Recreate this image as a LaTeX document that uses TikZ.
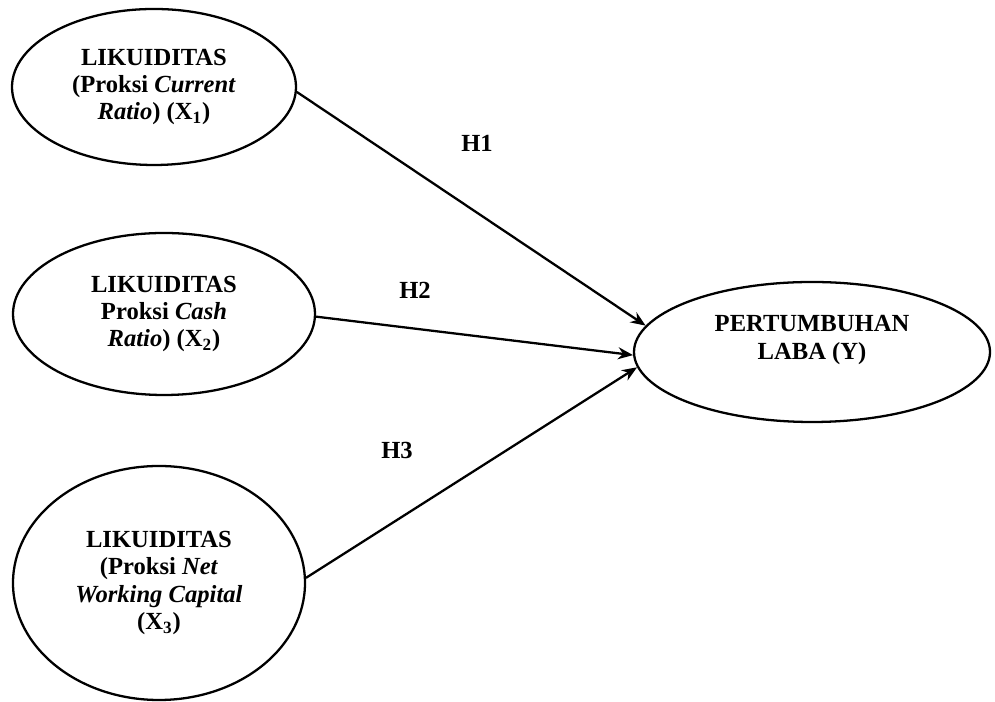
\documentclass[tikz,border=0pt]{standalone}
\usepackage{fontspec}
\setmainfont{Liberation Serif}
\usetikzlibrary{shapes.geometric,arrows.meta}

\begin{document}
\begin{tikzpicture}
    \tikzset{
        var/.style={draw, ellipse, line width=1.3pt, inner sep=0pt, align=center,
            font=\fontsize{14}{15.6}\selectfont\bfseries},
        hyp/.style={font=\fontsize{14}{15.6}\selectfont\bfseries},
        arr/.style={line width=1.3pt, -{Stealth[length=0.3cm,width=0.24cm]}}
    }
    \useasboundingbox (0,0) rectangle (19.9,14.04);

    % Define the independent variables
    \node[var, minimum width=5.68cm, minimum height=3.12cm] (x1) at (3.08,12.30)
        {LIKUIDITAS\\(Proksi \textit{Current}\\\textit{Ratio}) (X\textsubscript{1})};
    \node[var, minimum width=6.04cm, minimum height=3.24cm] (x2) at (3.28,7.76)
        {LIKUIDITAS\\Proksi \textit{Cash}\\\textit{Ratio}) (X\textsubscript{2})};
    \node[var, minimum width=5.84cm, minimum height=4.68cm] (x3) at (3.18,2.38)
        {LIKUIDITAS\\(Proksi \textit{Net}\\\textit{Working Capital}\\(X\textsubscript{3})};

    % Define the dependent variable
    \node[var, minimum width=7.12cm, minimum height=2.8cm,
        label={[hyp, align=center, yshift=0.24cm]center:PERTUMBUHAN\\LABA (Y)}] (y) at (16.24,7.00) {};

    % Draw hypothesis arrows
    \draw[arr] (x1.-2) -- (y.171);
    \draw[arr] (x2.-1) -- (y.181);
    \draw[arr] (x3.2) -- (y.185);

    % Hypothesis labels
    \node[hyp] (h1) at (9.54,11.18) {H1};
    \node[hyp] (h2) at (8.30,8.24) {H2};
    \node[hyp] (h3) at (7.94,5.04) {H3};
\end{tikzpicture}
\end{document}
